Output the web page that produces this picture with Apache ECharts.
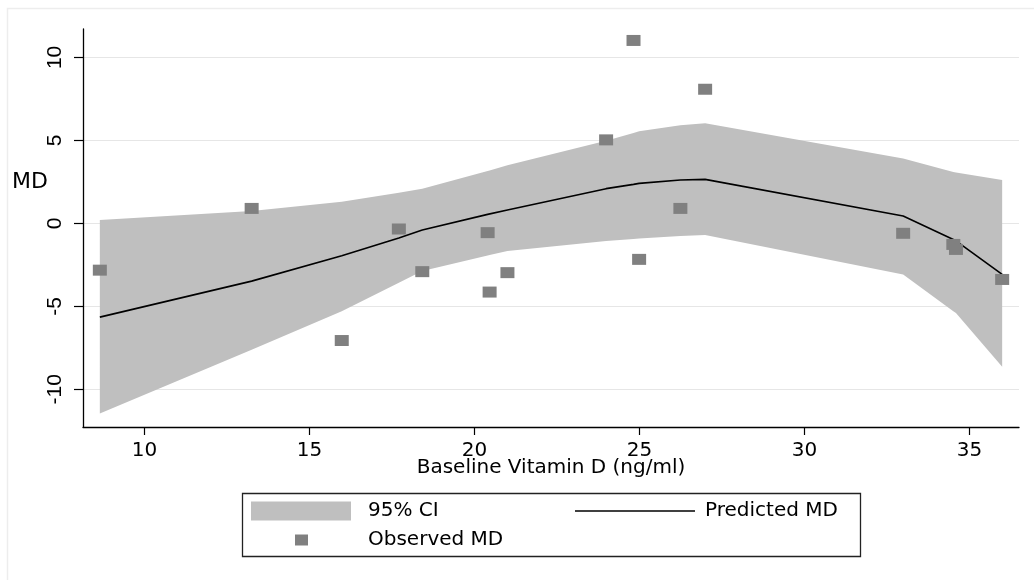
<!DOCTYPE html>
<html><head><meta charset="utf-8">
<script src="https://cdn.jsdelivr.net/npm/echarts@6/dist/echarts.min.js"></script>
<style>html,body{margin:0;padding:0;background:#fff}#c{width:1034px;height:580px}</style>
</head><body><div id="c"></div>
<script>
// Observed data (Baseline Vitamin D, observed MD)
const obsX = [8.65, 13.25, 15.98, 17.71, 18.42, 20.40, 20.46, 21.00, 23.99, 24.82, 24.99, 26.24, 26.99, 32.99, 34.51, 34.59, 35.99];
const obsMD = [-2.82, 0.90, -7.06, -0.34, -2.91, -0.56, -4.14, -2.97, 5.03, 11.02, -2.17, 0.90, 8.08, -0.60, -1.27, -1.57, -3.38];
// Fitted curve and 95% CI
const fitX = [8.65, 13.25, 15.98, 17.71, 18.42, 20.40, 20.46, 21.00, 23.99, 24.82, 24.99, 26.24, 26.99, 32.99, 34.51, 34.59, 35.99];
const predMD = [-5.65, -3.48, -1.95, -0.88, -0.40, 0.54, 0.57, 0.80, 2.09, 2.35, 2.41, 2.61, 2.65, 0.44, -0.97, -1.05, -3.08];
const ciLower = [-11.46, -7.62, -5.29, -3.58, -2.87, -1.93, -1.90, -1.67, -1.07, -0.95, -0.92, -0.76, -0.70, -3.08, -5.29, -5.40, -8.64];
const ciUpper = [0.20, 0.75, 1.30, 1.85, 2.09, 3.15, 3.19, 3.50, 4.97, 5.45, 5.55, 5.91, 6.03, 3.90, 3.10, 3.07, 2.61];
const xTicks = [10, 15, 20, 25, 30, 35];
const yTicks = [-10, -5, 0, 5, 10];

const FONT = 'DejaVu Sans';
const chart = echarts.init(document.getElementById('c'), null, {renderer: 'canvas'});
const option = {
  animation: false,
  backgroundColor: '#ffffff',
  title: {
    text: 'MD', left: 12, top: 171, padding: 0,
    textStyle: {fontFamily: FONT, fontSize: 22, fontWeight: 'normal', color: '#000'}
  },
  grid: {left: 83, right: 15, top: 29, bottom: 153, containLabel: false, outerBoundsMode: 'none'},
  xAxis: {
    type: 'value', min: 8.14, max: 36.5,
    axisLine: {onZero: false, lineStyle: {color: '#000', width: 1.3}},
    axisTick: {length: 8, customValues: xTicks, lineStyle: {color: '#000', width: 1.2}},
    axisLabel: {customValues: xTicks, margin: 14, fontFamily: FONT, fontSize: 20, color: '#000'},
    splitLine: {show: false},
    name: 'Baseline Vitamin D (ng/ml)', nameLocation: 'middle', nameGap: 31, nameMoveOverlap: false,
    nameTextStyle: {fontFamily: FONT, fontSize: 20, color: '#000'}
  },
  yAxis: {
    type: 'value', min: -12.27, max: 11.71,
    axisLine: {show: true, onZero: false, lineStyle: {color: '#000', width: 1.3}},
    axisTick: {show: true, length: 9, customValues: yTicks, lineStyle: {color: '#000', width: 1.2}},
    axisLabel: {customValues: yTicks, rotate: 90, margin: 17, fontFamily: 'Liberation Sans', fontSize: 21, color: '#000'},
    splitLine: {show: false}
  },
  legend: [
    {data: [{name: '95% CI', icon: 'rect'}], left: 251, top: 500, padding: 0, itemWidth: 100, itemHeight: 19,
     selectedMode: false, textStyle: {fontFamily: FONT, fontSize: 20, color: '#000', lineHeight: 22, padding: [0, 0, 0, 12]}},
    {data: [{name: 'Predicted MD', icon: 'rect', itemStyle: {color: '#000'}}], left: 575, top: 500, padding: 0, itemWidth: 120, itemHeight: 1.6,
     selectedMode: false, textStyle: {fontFamily: FONT, fontSize: 20, color: '#000', lineHeight: 22, padding: [0, 0, 0, 5]}},
    {data: [{name: 'Observed MD', icon: 'rect'}], left: 295, top: 529, padding: 0, itemWidth: 13, itemHeight: 11,
     selectedMode: false, textStyle: {fontFamily: FONT, fontSize: 20, color: '#000', lineHeight: 22, padding: [0, 0, 0, 55]}}
  ],
  graphic: [
    {type: 'rect', shape: {x: 7.5, y: 8.5, width: 1100, height: 700}, style: {fill: 'none', stroke: '#ededed', lineWidth: 1.5}, silent: true, z: -10},
    {type: 'rect', shape: {x: 242.5, y: 493.5, width: 618, height: 63}, style: {fill: 'none', stroke: '#222', lineWidth: 1.3}, silent: true}
  ],
  series: [
    {
      type: 'line', name: 'grid', data: [], z: 0, silent: true,
      markLine: {
        silent: true, symbol: 'none', label: {show: false}, z: 0,
        lineStyle: {color: '#e6e6e6', type: 'solid', width: 1.2},
        data: yTicks.map(v => ({yAxis: v}))
      }
    },
    {
      type: 'custom', name: '95% CI', z: 1, silent: true,
      itemStyle: {color: '#bfbfbf'},
      encode: {x: 0, y: [1, 2]},
      data: fitX.map((x, i) => [x, ciLower[i], ciUpper[i]]),
      renderItem: function (params, api) {
        if (params.dataIndexInside !== 0) return null;
        const pts = [];
        for (let i = 0; i < fitX.length; i++) pts.push(api.coord([fitX[i], ciUpper[i]]));
        for (let i = fitX.length - 1; i >= 0; i--) pts.push(api.coord([fitX[i], ciLower[i]]));
        return {type: 'polygon', shape: {points: pts}, style: {fill: '#bfbfbf'}};
      }
    },
    {
      type: 'line', name: 'Predicted MD', z: 3, symbol: 'none', silent: true,
      data: fitX.map((x, i) => [x, predMD[i]]),
      lineStyle: {color: '#000', width: 1.6}, itemStyle: {color: '#000'}
    },
    {
      type: 'scatter', name: 'Observed MD', z: 4, symbol: 'rect', symbolSize: [14, 11], silent: true,
      data: obsX.map((x, i) => [x, obsMD[i]]),
      itemStyle: {color: '#808080', opacity: 1}
    }
  ]
};
chart.setOption(option);
</script>
</body></html>
